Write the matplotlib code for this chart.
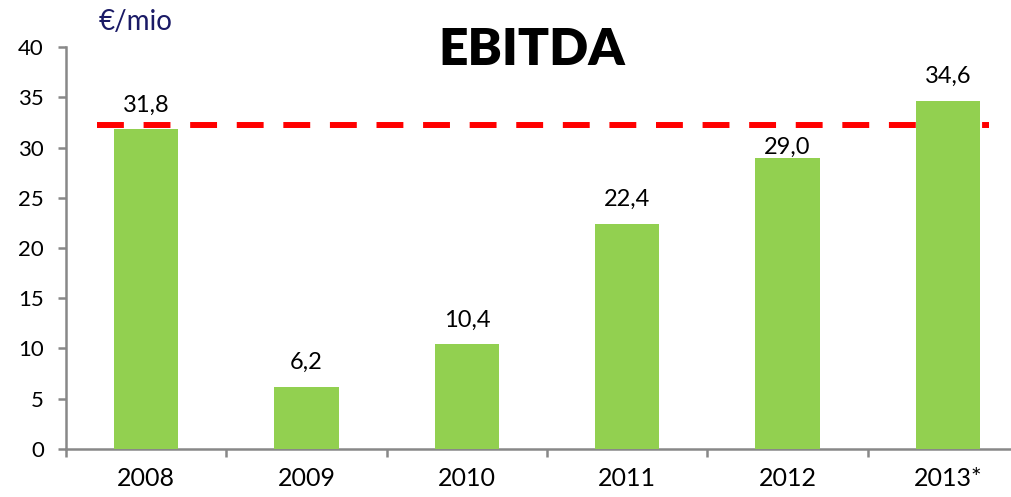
import matplotlib.pyplot as plt
import numpy as np

# data
years = ["2008", "2009", "2010", "2011", "2012", "2013*"]
ebitda = [31.8, 6.2, 10.4, 22.4, 29.0, 34.6]
labels = ["31,8", "6,2", "10,4", "22,4", "29,0", "34,6"]
ref_level = 32.2

plt.rcParams['font.family'] = ['Lato', 'DejaVu Sans']

fig = plt.figure(figsize=(10.12, 4.97), dpi=100)
ax = fig.add_axes([0.0652, 0.0966, 0.9348, 0.8088])

x = np.arange(len(years))
ax.bar(x, ebitda, width=0.4, color="#92D050", zorder=3)

# reference line (behind bars)
ax.plot([-0.306, 5.256], [ref_level, ref_level], color="#FF0000", lw=4.3,
        dashes=(4.5, 3.3), zorder=2, solid_capstyle='butt')

# the 2012 label sits lower so it stays under the dashed line
label_off = [13, 13, 13, 13, 3, 13]
for xi, v, lab, off in zip(x, ebitda, labels, label_off):
    ax.annotate(lab, (xi, v), xytext=(0, off), textcoords='offset points',
                ha='center', va='baseline', fontsize=17)

ax.set_xlim(-0.5, 5.40)
ax.set_ylim(0, 40)
ax.set_yticks(range(0, 41, 5))

# category boundaries as major ticks, labels on minor ticks
ax.set_xticks(np.arange(-0.5, 5.5, 1.0))
ax.set_xticklabels([])
ax.set_xticks(x, minor=True)
ax.set_xticklabels(years, minor=True, fontsize=18)
ax.tick_params(axis='x', which='minor', length=0, pad=13)
ax.tick_params(axis='x', which='major', length=6, width=1.8, color='#888888')
ax.tick_params(axis='y', length=6, width=1.8, color='#888888', labelsize=16, pad=10)

for s in ['top', 'right']:
    ax.spines[s].set_visible(False)
for s in ['left', 'bottom']:
    ax.spines[s].set_color('#888888')
    ax.spines[s].set_linewidth(1.8)

fig.text(0.525, 0.90, "EBITDA", ha='center', va='center', fontsize=37,
         fontweight='heavy')
fig.text(0.097, 0.956, "€/mio", ha='left', va='center', fontsize=20,
         color='#1A1A66')

fig.savefig("out.png", dpi=100)
